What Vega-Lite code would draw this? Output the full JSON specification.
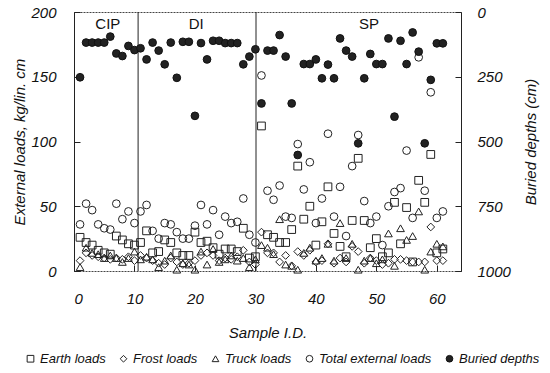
{
  "$schema": "https://vega.github.io/schema/vega-lite/v6.json",
  "width": 387,
  "height": 259,
  "autosize": {"type": "none"},
  "padding": {"left": 74, "top": 12, "right": 89, "bottom": 102},
  "config": {
    "font": "Liberation Sans",
    "view": {"stroke": "#444", "strokeWidth": 1, "strokeDash": [2, 1]},
    "axis": {
      "labelFontStyle": "italic", "labelFontSize": 15, "labelColor": "#111",
      "titleFontStyle": "italic", "titleFontSize": 15, "titleFontWeight": "normal", "titleColor": "#111",
      "grid": false, "domainColor": "#222", "tickColor": "#222", "tickSize": -6
    },
    "legend": {
      "labelFontSize": 13, "labelFontStyle": "italic", "labelColor": "#111",
      "symbolSize": 45, "symbolStrokeWidth": 1, "columnPadding": 11, "labelOffset": 3
    }
  },
  "datasets": {
    "samples": [
      {"id":1,"Earth loads":26,"Frost loads":8,"Truck loads":3,"Total external loads":36,"Buried depths":252},
      {"id":2,"Earth loads":22,"Frost loads":14,"Truck loads":18,"Total external loads":52,"Buried depths":118},
      {"id":3,"Earth loads":20,"Frost loads":12,"Truck loads":14,"Total external loads":47,"Buried depths":118},
      {"id":4,"Earth loads":16,"Frost loads":11,"Truck loads":13,"Total external loads":36,"Buried depths":118},
      {"id":5,"Earth loads":14,"Frost loads":10,"Truck loads":10,"Total external loads":33,"Buried depths":118},
      {"id":6,"Earth loads":13,"Frost loads":9,"Truck loads":12,"Total external loads":32,"Buried depths":95},
      {"id":7,"Earth loads":27,"Frost loads":10,"Truck loads":10,"Total external loads":52,"Buried depths":160},
      {"id":8,"Earth loads":24,"Frost loads":9,"Truck loads":7,"Total external loads":40,"Buried depths":170},
      {"id":9,"Earth loads":21,"Frost loads":11,"Truck loads":10,"Total external loads":46,"Buried depths":131},
      {"id":10,"Earth loads":20,"Frost loads":8,"Truck loads":15,"Total external loads":37,"Buried depths":147},
      {"id":11,"Earth loads":22,"Frost loads":12,"Truck loads":9,"Total external loads":46,"Buried depths":140},
      {"id":12,"Earth loads":31,"Frost loads":10,"Truck loads":11,"Total external loads":51,"Buried depths":183},
      {"id":13,"Earth loads":14,"Frost loads":8,"Truck loads":9,"Total external loads":31,"Buried depths":118},
      {"id":14,"Earth loads":15,"Frost loads":6,"Truck loads":3,"Total external loads":25,"Buried depths":149},
      {"id":15,"Earth loads":24,"Frost loads":5,"Truck loads":8,"Total external loads":37,"Buried depths":202},
      {"id":16,"Earth loads":22,"Frost loads":10,"Truck loads":12,"Total external loads":36,"Buried depths":118},
      {"id":17,"Earth loads":14,"Frost loads":7,"Truck loads":1,"Total external loads":30,"Buried depths":254},
      {"id":18,"Earth loads":12,"Frost loads":5,"Truck loads":6,"Total external loads":25,"Buried depths":115},
      {"id":19,"Earth loads":12,"Frost loads":6,"Truck loads":5,"Total external loads":25,"Buried depths":115},
      {"id":20,"Earth loads":30,"Frost loads":8,"Truck loads":1,"Total external loads":35,"Buried depths":401},
      {"id":21,"Earth loads":22,"Frost loads":12,"Truck loads":15,"Total external loads":51,"Buried depths":120},
      {"id":22,"Earth loads":23,"Frost loads":14,"Truck loads":5,"Total external loads":36,"Buried depths":183},
      {"id":23,"Earth loads":18,"Frost loads":12,"Truck loads":17,"Total external loads":47,"Buried depths":111},
      {"id":24,"Earth loads":13,"Frost loads":8,"Truck loads":7,"Total external loads":28,"Buried depths":111},
      {"id":25,"Earth loads":17,"Frost loads":10,"Truck loads":9,"Total external loads":42,"Buried depths":120},
      {"id":26,"Earth loads":17,"Frost loads":9,"Truck loads":12,"Total external loads":37,"Buried depths":120},
      {"id":27,"Earth loads":15,"Frost loads":11,"Truck loads":8,"Total external loads":38,"Buried depths":120},
      {"id":28,"Earth loads":33,"Frost loads":16,"Truck loads":10,"Total external loads":56,"Buried depths":202},
      {"id":29,"Earth loads":10,"Frost loads":7,"Truck loads":3,"Total external loads":28,"Buried depths":172},
      {"id":30,"Earth loads":11,"Frost loads":5,"Truck loads":9,"Total external loads":22,"Buried depths":144},
      {"id":31,"Earth loads":112,"Frost loads":30,"Truck loads":20,"Total external loads":151,"Buried depths":353},
      {"id":32,"Earth loads":28,"Frost loads":14,"Truck loads":18,"Total external loads":62,"Buried depths":149},
      {"id":33,"Earth loads":26,"Frost loads":14,"Truck loads":13,"Total external loads":55,"Buried depths":149},
      {"id":34,"Earth loads":22,"Frost loads":7,"Truck loads":40,"Total external loads":66,"Buried depths":89},
      {"id":35,"Earth loads":22,"Frost loads":12,"Truck loads":5,"Total external loads":42,"Buried depths":172},
      {"id":36,"Earth loads":32,"Frost loads":4,"Truck loads":4,"Total external loads":41,"Buried depths":353},
      {"id":37,"Earth loads":81,"Frost loads":15,"Truck loads":1,"Total external loads":98,"Buried depths":552},
      {"id":38,"Earth loads":40,"Frost loads":12,"Truck loads":14,"Total external loads":63,"Buried depths":201},
      {"id":39,"Earth loads":50,"Frost loads":16,"Truck loads":18,"Total external loads":84,"Buried depths":201},
      {"id":40,"Earth loads":20,"Frost loads":7,"Truck loads":8,"Total external loads":37,"Buried depths":183},
      {"id":41,"Earth loads":38,"Frost loads":8,"Truck loads":10,"Total external loads":56,"Buried depths":256},
      {"id":42,"Earth loads":65,"Frost loads":21,"Truck loads":21,"Total external loads":106,"Buried depths":203},
      {"id":43,"Earth loads":29,"Frost loads":6,"Truck loads":8,"Total external loads":42,"Buried depths":256},
      {"id":44,"Earth loads":19,"Frost loads":10,"Truck loads":37,"Total external loads":65,"Buried depths":102},
      {"id":45,"Earth loads":11,"Frost loads":7,"Truck loads":10,"Total external loads":27,"Buried depths":149},
      {"id":46,"Earth loads":39,"Frost loads":19,"Truck loads":21,"Total external loads":81,"Buried depths":172},
      {"id":47,"Earth loads":87,"Frost loads":15,"Truck loads":1,"Total external loads":105,"Buried depths":507},
      {"id":48,"Earth loads":39,"Frost loads":6,"Truck loads":8,"Total external loads":54,"Buried depths":256},
      {"id":49,"Earth loads":18,"Frost loads":10,"Truck loads":10,"Total external loads":37,"Buried depths":162},
      {"id":50,"Earth loads":25,"Frost loads":8,"Truck loads":6,"Total external loads":42,"Buried depths":201},
      {"id":51,"Earth loads":11,"Frost loads":5,"Truck loads":9,"Total external loads":20,"Buried depths":201},
      {"id":52,"Earth loads":14,"Frost loads":6,"Truck loads":29,"Total external loads":50,"Buried depths":102},
      {"id":53,"Earth loads":53,"Frost loads":9,"Truck loads":4,"Total external loads":61,"Buried depths":404},
      {"id":54,"Earth loads":21,"Frost loads":9,"Truck loads":33,"Total external loads":64,"Buried depths":111},
      {"id":55,"Earth loads":49,"Frost loads":8,"Truck loads":24,"Total external loads":93,"Buried depths":201},
      {"id":56,"Earth loads":7,"Frost loads":7,"Truck loads":27,"Total external loads":41,"Buried depths":79},
      {"id":57,"Earth loads":70,"Frost loads":7,"Truck loads":46,"Total external loads":165,"Buried depths":153},
      {"id":58,"Earth loads":53,"Frost loads":7,"Truck loads":1,"Total external loads":62,"Buried depths":507},
      {"id":59,"Earth loads":90,"Frost loads":34,"Truck loads":15,"Total external loads":138,"Buried depths":262},
      {"id":60,"Earth loads":14,"Frost loads":8,"Truck loads":21,"Total external loads":41,"Buried depths":121},
      {"id":61,"Earth loads":17,"Frost loads":8,"Truck loads":19,"Total external loads":46,"Buried depths":121}
    ],
    "labels": [
      {"label": "CIP", "x": 5.6, "y": 191},
      {"label": "DI", "x": 20.2, "y": 191},
      {"label": "SP", "x": 48.8, "y": 191}
    ],
    "dividers": [{"x": 10.6}, {"x": 30.1}]
  },
  "layer": [
    {
      "layer": [
        {
          "data": {"name": "dividers"},
          "mark": {"type": "rule", "color": "#222", "strokeWidth": 1},
          "encoding": {"x": {"field": "x", "type": "quantitative", "scale": {"domain": [0, 64], "nice": false}}}
        },
        {
          "data": {"name": "labels"},
          "mark": {"type": "text", "fontSize": 15, "color": "#111", "baseline": "middle"},
          "encoding": {
            "x": {"field": "x", "type": "quantitative"},
            "y": {"field": "y", "type": "quantitative"},
            "text": {"field": "label"}
          }
        },
        {
          "data": {"name": "samples"},
          "transform": [{"fold": ["Earth loads", "Frost loads", "Truck loads", "Total external loads"], "as": ["series", "value"]}],
          "mark": {"type": "point", "strokeWidth": 1, "opacity": 1, "size": 60},
          "encoding": {
            "x": {
              "field": "id", "type": "quantitative",
              "scale": {"domain": [0, 64], "nice": false},
              "axis": {"values": [0, 10, 20, 30, 40, 50, 60], "title": "Sample I.D.", "labelPadding": 26, "domain": false, "titleY": 61, "titleBaseline": "middle"}
            },
            "y": {
              "field": "value", "type": "quantitative",
              "scale": {"domain": [0, 200], "nice": false},
              "axis": {"values": [0, 50, 100, 150, 200], "title": "External loads, kg/lin. cm", "labelPadding": 24, "titleX": -47, "titleY": 129.5}
            },
            "shape": {
              "field": "series", "type": "nominal",
              "scale": {"domain": ["Earth loads", "Frost loads", "Truck loads", "Total external loads", "Buried depths"], "range": ["square", "diamond", "triangle-up", "circle", "circle"]},
              "legend": {"title": null, "orient": "none", "legendX": -50, "legendY": 340, "direction": "horizontal", "columns": 5}
            },
            "fill": {
              "field": "series", "type": "nominal",
              "scale": {"domain": ["Earth loads", "Frost loads", "Truck loads", "Total external loads", "Buried depths"], "range": ["transparent", "transparent", "transparent", "transparent", "#222"]},
              "legend": {"title": null, "orient": "none", "legendX": -50, "legendY": 340, "direction": "horizontal", "columns": 5}
            },
            "stroke": {
              "field": "series", "type": "nominal",
              "scale": {"domain": ["Earth loads", "Frost loads", "Truck loads", "Total external loads", "Buried depths"], "range": ["#222", "#222", "#222", "#222", "#111"]},
              "legend": {"title": null, "orient": "none", "legendX": -50, "legendY": 340, "direction": "horizontal", "columns": 5}
            }
          }
        }
      ]
    },
    {
      "data": {"name": "samples"},
      "transform": [{"fold": ["Buried depths"], "as": ["series", "value"]}],
      "mark": {"type": "point", "strokeWidth": 1, "opacity": 1, "size": 60},
      "encoding": {
        "x": {"field": "id", "type": "quantitative"},
        "y": {
          "field": "value", "type": "quantitative",
          "scale": {"domain": [0, 1000], "reverse": true, "nice": false},
          "axis": {"orient": "right", "values": [0, 250, 500, 750, 1000], "format": "d", "title": "Buried depths (cm)", "labelPadding": 22, "titleAngle": 270, "titleX": 77, "titleY": 129.5}
        },
        "shape": {
          "field": "series", "type": "nominal",
          "legend": {"title": null, "orient": "none", "legendX": -50, "legendY": 340, "direction": "horizontal", "columns": 5}
        },
        "fill": {
          "field": "series", "type": "nominal",
          "legend": {"title": null, "orient": "none", "legendX": -50, "legendY": 340, "direction": "horizontal", "columns": 5}
        },
        "stroke": {
          "field": "series", "type": "nominal",
          "legend": {"title": null, "orient": "none", "legendX": -50, "legendY": 340, "direction": "horizontal", "columns": 5}
        }
      }
    }
  ],
  "resolve": {"scale": {"y": "independent"}}
}
